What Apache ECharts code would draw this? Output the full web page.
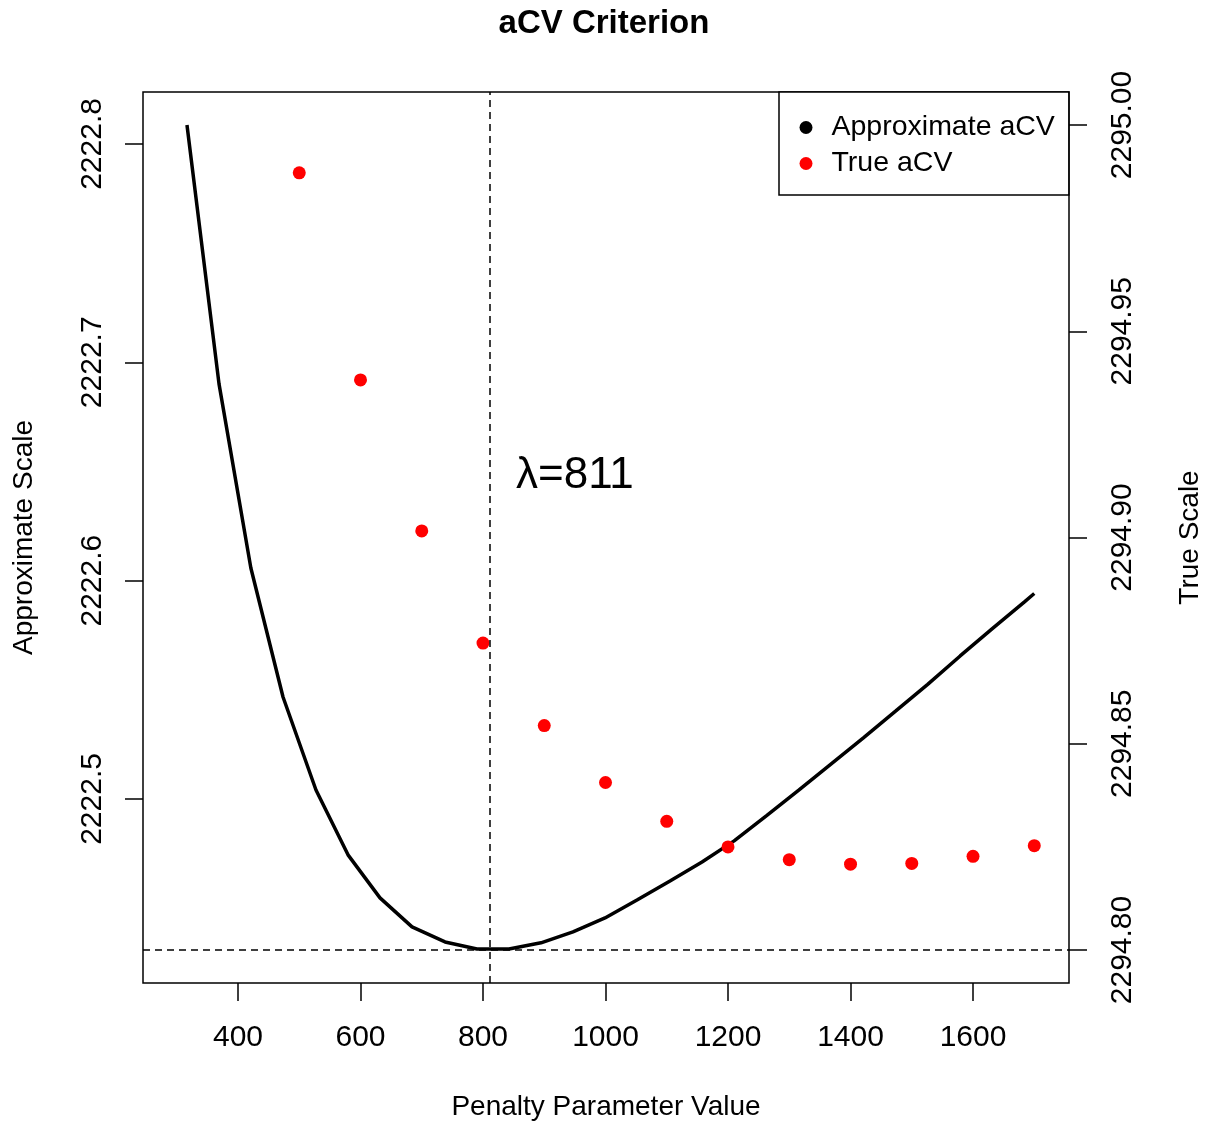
<!DOCTYPE html>
<html>
<head>
<meta charset="utf-8">
<script src="https://cdn.jsdelivr.net/npm/echarts@6/dist/echarts.min.js"></script>
<style>html,body{margin:0;padding:0;background:#fff}#c{width:1208px;height:1122px}</style>
</head>
<body>
<div id="c"></div>
<script>
// Approximate aCV curve (left axis)
var approxX = [316.7, 369, 421, 473.5, 527.3, 579.6, 631.8, 684.1, 738, 790.2, 842.4, 894.7, 946.9, 999.2, 1051.4, 1105.3, 1157.6, 1210, 1263, 1316, 1368, 1421, 1474, 1526, 1579, 1632, 1684, 1700];
var approxY = [2222.8087, 2222.6901, 2222.6058, 2222.5467, 2222.5041, 2222.4744, 2222.4547, 2222.4414, 2222.4345, 2222.4313, 2222.4313, 2222.4341, 2222.4391, 2222.4455, 2222.4537, 2222.4624, 2222.4711, 2222.4808, 2222.4924, 2222.5042, 2222.5160, 2222.5280, 2222.5403, 2222.5525, 2222.5655, 2222.5781, 2222.5903, 2222.5941];
// True aCV points (right axis)
var trueX = [500, 600, 700, 800, 900, 1000, 1100, 1200, 1300, 1400, 1500, 1600, 1700];
var trueY = [2294.9884, 2294.9382, 2294.9016, 2294.8744, 2294.8544, 2294.8406, 2294.8312, 2294.8250, 2294.8219, 2294.8208, 2294.8210, 2294.8227, 2294.8253];
// Tick values
var xTicks = [400, 600, 800, 1000, 1200, 1400, 1600];
var leftTicks = [2222.5, 2222.6, 2222.7, 2222.8];
var rightTicks = [2294.80, 2294.85, 2294.90, 2294.95, 2295.00];
var lambdaOpt = 811;
var hLineRight = 2294.80;
var labelText = 'λ=811';
var labelPos = [950, 2222.648];

var FONT = '"Liberation Sans", Arial, Helvetica, sans-serif';
var chart = echarts.init(document.getElementById('c'), null, {renderer: 'canvas'});

var tickStyle = {show: true, length: 18, lineStyle: {color: '#000', width: 1.5}};

var option = {
  animation: false,
  backgroundColor: '#fff',
  textStyle: {fontFamily: FONT, color: '#000'},
  title: {
    text: 'aCV Criterion', left: 'center', top: 7, padding: 0,
    textStyle: {fontFamily: FONT, fontSize: 33, fontWeight: 'bold', color: '#000'}
  },
  grid: {left: 143, right: 139, top: 92, bottom: 139, show: true, borderColor: '#000', borderWidth: 1.5,
    backgroundColor: 'transparent', containLabel: false, outerBoundsMode: 'none'},
  legend: {
    left: 779, top: 92, orient: 'vertical',
    padding: [21, 14, 17, 20.5], itemGap: 7,
    itemWidth: 13, itemHeight: 13,
    borderColor: '#000', borderWidth: 1.5, backgroundColor: '#fff', borderRadius: 0,
    textStyle: {fontFamily: FONT, fontSize: 28.5, lineHeight: 28, color: '#000', padding: [0, 0, 0, 14]},
    data: [{name: 'Approximate aCV', icon: 'circle', itemStyle: {color: '#000', opacity: 1}}, {name: 'True aCV', icon: 'circle', itemStyle: {color: '#ff0000', opacity: 1}}]
  },
  xAxis: {
    type: 'value', min: 244.9, max: 1756.7,
    name: 'Penalty Parameter Value', nameLocation: 'middle', nameGap: 110,
    nameTextStyle: {fontFamily: FONT, fontSize: 28, lineHeight: 28, color: '#000'},
    axisLine: {show: false},
    axisTick: Object.assign({customValues: xTicks}, tickStyle),
    axisLabel: {customValues: xTicks, margin: 40, fontFamily: FONT, fontSize: 30, lineHeight: 30, color: '#000',
      formatter: function (v) { return String(Math.round(v)); }},
    splitLine: {show: false}
  },
  yAxis: [{
    type: 'value', position: 'left', min: 2222.4157, max: 2222.8238,
    name: 'Approximate Scale', nameLocation: 'middle', nameGap: 105,
    nameTextStyle: {fontFamily: FONT, fontSize: 28, lineHeight: 28, color: '#000'},
    axisLine: {show: false},
    axisTick: Object.assign({customValues: leftTicks}, tickStyle),
    axisLabel: {customValues: leftTicks, rotate: 90, margin: 35, fontFamily: FONT, fontSize: 30, lineHeight: 30, color: '#000',
      formatter: function (v) { return Number(v).toFixed(1); }},
    splitLine: {show: false}
  }, {
    type: 'value', position: 'right', min: 2294.792, max: 2295.008,
    name: 'True Scale', nameLocation: 'middle', nameGap: 107,
    nameTextStyle: {fontFamily: FONT, fontSize: 28, lineHeight: 28, color: '#000'},
    axisLine: {show: false},
    axisTick: Object.assign({customValues: rightTicks}, tickStyle),
    axisLabel: {customValues: rightTicks, rotate: 90, margin: 39, fontFamily: FONT, fontSize: 30, lineHeight: 30, color: '#000',
      formatter: function (v) { return Number(v).toFixed(2); }},
    splitLine: {show: false}
  }],
  series: [{
    name: 'Approximate aCV', type: 'line', yAxisIndex: 0,
    data: approxX.map(function (x, i) { return [x, approxY[i]]; }),
    showSymbol: false, symbol: 'none', smooth: false,
    lineStyle: {color: '#000', width: 3.5}, itemStyle: {color: '#000', opacity: 1},
    markPoint: {
      symbol: 'circle', symbolSize: 0, silent: true,
      label: {show: true, position: 'inside', formatter: labelText, fontFamily: FONT, fontSize: 44, color: '#000'},
      data: [{coord: labelPos}]
    },
    markLine: {
      symbol: 'none', silent: true, label: {show: false},
      lineStyle: {color: '#000', width: 1.5, type: [7, 5]},
      data: [{xAxis: lambdaOpt}]
    },
    z: 3
  }, {
    name: 'True aCV', type: 'scatter', yAxisIndex: 1,
    data: trueX.map(function (x, i) { return [x, trueY[i]]; }),
    symbol: 'circle', symbolSize: 13,
    itemStyle: {color: '#ff0000', opacity: 1},
    markLine: {
      symbol: 'none', silent: true, label: {show: false},
      lineStyle: {color: '#000', width: 1.5, type: [7, 5]},
      data: [{yAxis: hLineRight}]
    },
    z: 4
  }]
};
chart.setOption(option);
</script>
</body>
</html>
